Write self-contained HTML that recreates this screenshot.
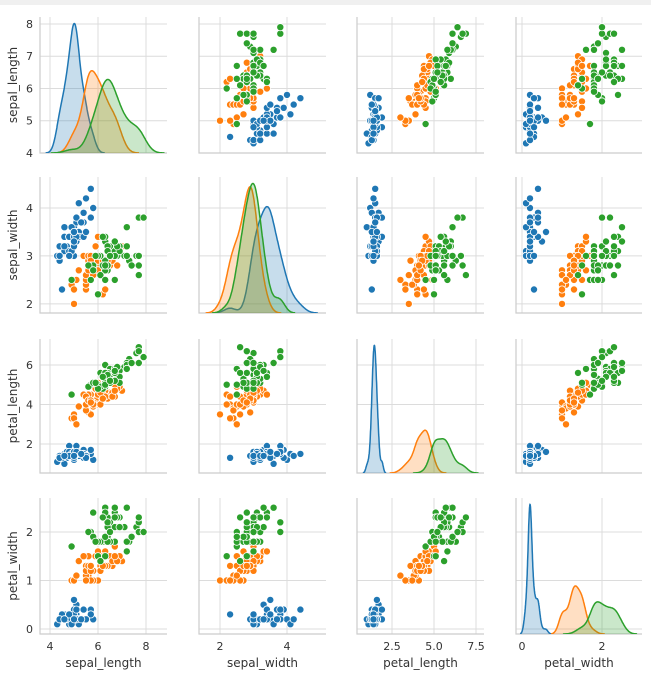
<!DOCTYPE html>
<html><head><meta charset="utf-8"><style>
html,body{margin:0;padding:0;background:#fff;}
svg{display:block;font-family:"DejaVu Sans","Liberation Sans",sans-serif;}
</style></head><body>
<svg id="chart" width="651" height="673" viewBox="0 0 651 673">
<rect x="0" y="0" width="651" height="5" fill="#f0f0f0"/>
</svg>
<script>
const varNames = ['sepal_length','sepal_width','petal_length','petal_width'];
const speciesNames = ['setosa','versicolor','virginica'];
const speciesColors = ['#1f77b4','#ff7f0e','#2ca02c'];
const sepalLength = [5.1,4.9,4.7,4.6,5.0,5.4,4.6,5.0,4.4,4.9,5.4,4.8,4.8,4.3,5.8,5.7,5.4,5.1,5.7,5.1,5.4,5.1,4.6,5.1,4.8,5.0,5.0,5.2,5.2,4.7,4.8,5.4,5.2,5.5,4.9,5.0,5.5,4.9,4.4,5.1,5.0,4.5,4.4,5.0,5.1,4.8,5.1,4.6,5.3,5.0,
7.0,6.4,6.9,5.5,6.5,5.7,6.3,4.9,6.6,5.2,5.0,5.9,6.0,6.1,5.6,6.7,5.6,5.8,6.2,5.6,5.9,6.1,6.3,6.1,6.4,6.6,6.8,6.7,6.0,5.7,5.5,5.5,5.8,6.0,5.4,6.0,6.7,6.3,5.6,5.5,5.5,6.1,5.8,5.0,5.6,5.7,5.7,6.2,5.1,5.7,
6.3,5.8,7.1,6.3,6.5,7.6,4.9,7.3,6.7,7.2,6.5,6.4,6.8,5.7,5.8,6.4,6.5,7.7,7.7,6.0,6.9,5.6,7.7,6.3,6.7,7.2,6.2,6.1,6.4,7.2,7.4,7.9,6.4,6.3,6.1,7.7,6.3,6.4,6.0,6.9,6.7,6.9,5.8,6.8,6.7,6.7,6.3,6.5,6.2,5.9];
const sepalWidth = [3.5,3.0,3.2,3.1,3.6,3.9,3.4,3.4,2.9,3.1,3.7,3.4,3.0,3.0,4.0,4.4,3.9,3.5,3.8,3.8,3.4,3.7,3.6,3.3,3.4,3.0,3.4,3.5,3.4,3.2,3.1,3.4,4.1,4.2,3.1,3.2,3.5,3.6,3.0,3.4,3.5,2.3,3.2,3.5,3.8,3.0,3.8,3.2,3.7,3.3,
3.2,3.2,3.1,2.3,2.8,2.8,3.3,2.4,2.9,2.7,2.0,3.0,2.2,2.9,2.9,3.1,3.0,2.7,2.2,2.5,3.2,2.8,2.5,2.8,2.9,3.0,2.8,3.0,2.9,2.6,2.4,2.4,2.7,2.7,3.0,3.4,3.1,2.3,3.0,2.5,2.6,3.0,2.6,2.3,2.7,3.0,2.9,2.9,2.5,2.8,
3.3,2.7,3.0,2.9,3.0,3.0,2.5,2.9,2.5,3.6,3.2,2.7,3.0,2.5,2.8,3.2,3.0,3.8,2.6,2.2,3.2,2.8,2.8,2.7,3.3,3.2,2.8,3.0,2.8,3.0,2.8,3.8,2.8,2.8,2.6,3.0,3.4,3.1,3.0,3.1,3.1,3.1,2.7,3.2,3.3,3.0,2.5,3.0,3.4,3.0];
const petalLength = [1.4,1.4,1.3,1.5,1.4,1.7,1.4,1.5,1.4,1.5,1.5,1.6,1.4,1.1,1.2,1.5,1.3,1.4,1.7,1.5,1.7,1.5,1.0,1.7,1.9,1.6,1.6,1.5,1.4,1.6,1.6,1.5,1.5,1.4,1.5,1.2,1.3,1.4,1.3,1.5,1.3,1.3,1.3,1.6,1.9,1.4,1.6,1.4,1.5,1.4,
4.7,4.5,4.9,4.0,4.6,4.5,4.7,3.3,4.6,3.9,3.5,4.2,4.0,4.7,3.6,4.4,4.5,4.1,4.5,3.9,4.8,4.0,4.9,4.7,4.3,4.4,4.8,5.0,4.5,3.5,3.8,3.7,3.9,5.1,4.5,4.5,4.7,4.4,4.1,4.0,4.4,4.6,4.0,3.3,4.2,4.2,4.2,4.3,3.0,4.1,
6.0,5.1,5.9,5.6,5.8,6.6,4.5,6.3,5.8,6.1,5.1,5.3,5.5,5.0,5.1,5.3,5.5,6.7,6.9,5.0,5.7,4.9,6.7,4.9,5.7,6.0,4.8,4.9,5.6,5.8,6.1,6.4,5.6,5.1,5.6,6.1,5.6,5.5,4.8,5.4,5.6,5.1,5.1,5.9,5.7,5.2,5.0,5.2,5.4,5.1];
const petalWidth = [0.2,0.2,0.2,0.2,0.2,0.4,0.3,0.2,0.2,0.1,0.2,0.2,0.1,0.1,0.2,0.4,0.4,0.3,0.3,0.3,0.2,0.4,0.2,0.5,0.2,0.2,0.4,0.2,0.2,0.2,0.2,0.4,0.1,0.2,0.2,0.2,0.2,0.1,0.2,0.2,0.3,0.3,0.2,0.6,0.4,0.3,0.2,0.2,0.2,0.2,
1.4,1.5,1.5,1.3,1.5,1.3,1.6,1.0,1.3,1.4,1.0,1.5,1.0,1.4,1.3,1.4,1.5,1.0,1.5,1.1,1.8,1.3,1.5,1.2,1.3,1.4,1.4,1.7,1.5,1.0,1.1,1.0,1.2,1.6,1.5,1.6,1.5,1.3,1.3,1.3,1.2,1.4,1.2,1.0,1.3,1.2,1.3,1.3,1.1,1.3,
2.5,1.9,2.1,1.8,2.2,2.1,1.7,1.8,1.8,2.5,2.0,1.9,2.1,2.0,2.4,2.3,1.8,2.2,2.3,1.5,2.3,2.0,2.0,1.8,2.1,1.8,1.8,1.8,2.1,1.6,1.9,2.0,2.2,1.5,1.4,2.3,2.4,1.8,1.8,2.1,2.4,2.3,1.9,2.3,2.5,2.3,1.9,2.0,2.3,1.8];
const speciesIndex = [].concat(Array(50).fill(0), Array(50).fill(1), Array(50).fill(2));
const colTicks = [[4,6,8],[2,4],[2.5,5.0,7.5],[0,2]];
const colTickLabels = [['4','6','8'],['2','4'],['2.5','5.0','7.5'],['0','2']];
const rowTicks = [[4,5,6,7,8],[2,3,4],[2,4,6],[0,1,2]];
const rowTickLabels = [['4','5','6','7','8'],['2','3','4'],['2','4','6'],['0','1','2']];

const cols = [{l:40,r:167,d0:3.583,d1:8.875},{l:199,r:326,d0:1.373,d1:5.164},{l:357,r:484,d0:0.417,d1:7.976},{l:516,r:642,d0:-0.15,d1:3.0}];
const rows = [{t:17,b:153,d0:4.0,d1:8.217},{t:177,b:313,d0:1.81,d1:4.646},{t:339,b:473,d0:0.532,d1:7.316},{t:498,b:634,d0:-0.103,d1:2.70}];
const dataCols = [sepalLength,sepalWidth,petalLength,petalWidth];
const NS='http://www.w3.org/2000/svg';
const svg=document.getElementById('chart');
function mk(tag,attrs,parent){const e=document.createElementNS(NS,tag);for(const k in attrs)e.setAttribute(k,attrs[k]);(parent||svg).appendChild(e);return e;}
function xs(c,v){const C=cols[c];return C.l+(v-C.d0)/(C.d1-C.d0)*(C.r-C.l);}
function ys(r,v){const R=rows[r];return R.b-(v-R.d0)/(R.d1-R.d0)*(R.b-R.t);}
const defs=mk('defs',{});
for(let r=0;r<4;r++)for(let c=0;c<4;c++){
  const cp=mk('clipPath',{id:'cp'+r+'_'+c},defs);
  mk('rect',{x:cols[c].l,y:rows[r].t,width:cols[c].r-cols[c].l,height:rows[r].b-rows[r].t},cp);
}
function kde(vals,xgrid){
  const n=vals.length,m=vals.reduce((a,b)=>a+b,0)/n;
  const sd=Math.sqrt(vals.reduce((a,b)=>a+(b-m)*(b-m),0)/(n-1));
  const h=sd*Math.pow(n,-0.2);
  return {h,f:x=>vals.reduce((s,v)=>s+Math.exp(-0.5*((x-v)/h)**2),0)/(n*h*Math.sqrt(2*Math.PI))};
}
for(let r=0;r<4;r++)for(let c=0;c<4;c++){
  const g=mk('g',{});
  
  
  const C=cols[c],R=rows[r];
  colTicks[c].forEach(t=>{const gl=mk('line',{x1:xs(c,t),x2:xs(c,t),y1:R.t,y2:R.b,stroke:'#dcdcdc','stroke-width':1},g);
    });
  rowTicks[r].forEach(t=>{const gl=mk('line',{x1:C.l,x2:C.r,y1:ys(r,t),y2:ys(r,t),stroke:'#dcdcdc','stroke-width':1},g);
    });
  const ax=mk('path',{d:`M${C.l},${R.t}V${R.b}H${C.r}`,fill:'none',stroke:'#cccccc','stroke-width':1.2},g);
  
  const inner=mk('g',{'clip-path':`url(#cp${r}_${c})`},g);
  if(r===c){
    const vals=dataCols[c];
    const ks=[0,1,2].map(s=>{const sub=vals.filter((v,i)=>speciesIndex[i]===s);const k=kde(sub);
      const lo=Math.min(...sub)-3*k.h,hi=Math.max(...sub)+3*k.h,pts=[];
      for(let i=0;i<=200;i++){const x=lo+(hi-lo)*i/200;pts.push([x,k.f(x)]);}return pts;});
    const mx=Math.max(...ks.flat().map(p=>p[1]))*1.05;
    ks.forEach((pts,s)=>{
      const py=y=>R.b-y/mx*(R.b-R.t);
      const line=pts.map((p,i)=>(i?'L':'M')+xs(c,p[0]).toFixed(1)+','+py(p[1]).toFixed(1)).join('');
      const fa=mk('path',{d:line+`L${xs(c,pts[pts.length-1][0]).toFixed(1)},${R.b}L${xs(c,pts[0][0]).toFixed(1)},${R.b}Z`,fill:speciesColors[s],'fill-opacity':0.25,stroke:'none'},inner);
      
      const ln=mk('path',{d:line,fill:'none',stroke:speciesColors[s],'stroke-width':1.5},inner);
      
    });
  } else {
    const xv=dataCols[c],yv=dataCols[r];
    for(let i=0;i<xv.length;i++){
      const pt=mk('circle',{cx:xs(c,xv[i]).toFixed(1),cy:ys(r,yv[i]).toFixed(1),r:3.6,fill:speciesColors[speciesIndex[i]],stroke:'#fff','stroke-width':0.8},inner);
      
      
    }
  }
}
// tick labels and titles
for(let c=0;c<4;c++){
  colTicks[c].forEach((t,i)=>{const tx=mk('text',{x:xs(c,t),y:650,'text-anchor':'middle','font-size':11,fill:'#333'});tx.textContent=colTickLabels[c][i];
    });
  const tt=mk('text',{x:(cols[c].l+cols[c].r)/2,y:667,'text-anchor':'middle','font-size':12,fill:'#333'});tt.textContent=varNames[c];
  
}
for(let r=0;r<4;r++){
  rowTicks[r].forEach((t,i)=>{const tx=mk('text',{x:33,y:ys(r,t)+4,'text-anchor':'end','font-size':11,fill:'#333'});tx.textContent=rowTickLabels[r][i];
    });
  const cy=(rows[r].t+rows[r].b)/2;
  const tt=mk('text',{x:0,y:0,transform:`translate(17,${cy}) rotate(-90)`,'text-anchor':'middle','font-size':12,fill:'#333'});tt.textContent=varNames[r];
  
}
</script>
</body></html>
